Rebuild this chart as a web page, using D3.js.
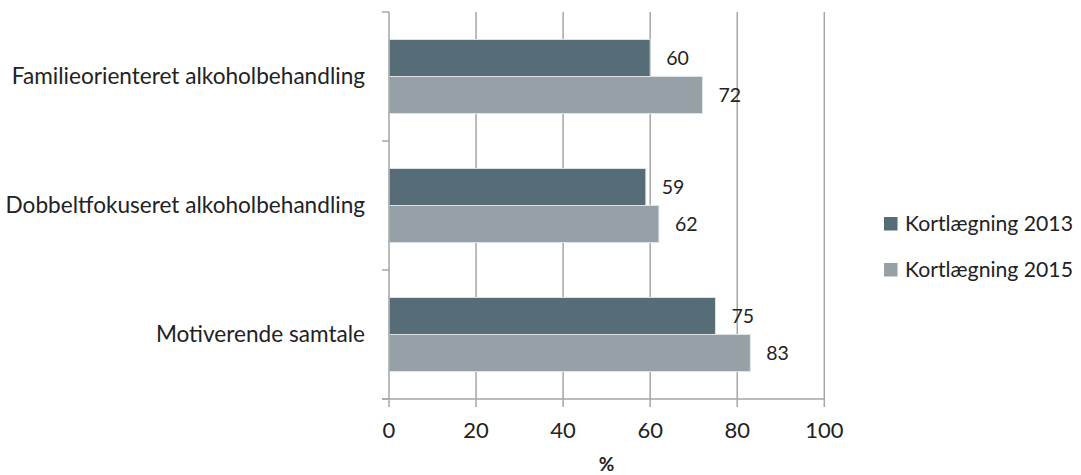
<!DOCTYPE html>
<html><head><meta charset="utf-8">
<script src="https://cdn.jsdelivr.net/npm/d3@7"></script>
<style>body{margin:0;background:#fff}svg{display:block}</style>
</head><body>
<svg id="c" width="1081" height="475"></svg>
<script>
const categories = ["Familieorienteret alkoholbehandling", "Dobbeltfokuseret alkoholbehandling", "Motiverende samtale"];
const seriesNames = ["Kortlægning 2013", "Kortlægning 2015"];
const values2013 = [60, 59, 75];
const values2015 = [72, 62, 83];
const xTicks = [0, 20, 40, 60, 80, 100];
const axisTitle = "%";
const colors = ["#566c76", "#95a1a6"];

const svg = d3.select("#c");
const font = "Lato, 'Open Sans', sans-serif";
const L = 389, R = 824.3, T = 12, B = 399;
const x = d3.scaleLinear().domain([0, 100]).range([L, R]);
const y = d3.scaleBand().domain(categories).range([T, B]).padding(0);
const inner = d3.scaleBand().domain(seriesNames).range([0, y.bandwidth()]).paddingInner(0).paddingOuter(0.743);
const grid = "#a6a6a6";

// gridlines
svg.append("g").selectAll("line").data(xTicks.slice(1)).join("line")
  .attr("x1", d => x(d)).attr("x2", d => x(d)).attr("y1", T).attr("y2", B)
  .attr("stroke", grid).attr("stroke-width", 1.5);

// bars
const rows = categories.map((c, i) => ({c, vals: [values2013[i], values2015[i]]}));
const g = svg.append("g");
rows.forEach(r => {
  r.vals.forEach((v, j) => {
    const yy = y(r.c) + inner(seriesNames[j]);
    g.append("rect").attr("x", x(0)).attr("y", yy).attr("width", x(v) - x(0)).attr("height", inner.bandwidth())
      .attr("fill", colors[j]).attr("stroke", "#dde2e4").attr("stroke-width", 1);
    g.append("text").attr("x", x(v) + 16).attr("y", yy + inner.bandwidth() / 2).attr("dy", "0.35em")
      .attr("font-family", font).attr("font-size", 19.5).attr("fill", "#222").text(v);
  });
});

// left axis
const ya = svg.append("g");
ya.append("line").attr("x1", L).attr("x2", L).attr("y1", T).attr("y2", B).attr("stroke", grid).attr("stroke-width", 1.5);
const yTickPos = [T, ...categories.slice(1).map(c => y(c)), B];
ya.selectAll(".t").data(yTickPos).join("line").attr("class", "t")
  .attr("x1", L - 7).attr("x2", L).attr("y1", d => d).attr("y2", d => d).attr("stroke", grid).attr("stroke-width", 1.5);
ya.selectAll("text").data(categories).join("text")
  .attr("x", L - 24).attr("y", d => y(d) + y.bandwidth() / 2).attr("dy", "0.35em")
  .attr("text-anchor", "end").attr("font-family", font).attr("font-size", 22.6).attr("fill", "#222").text(d => d);

// bottom axis
const xa = svg.append("g");
xa.append("line").attr("x1", L - 7).attr("x2", R).attr("y1", B).attr("y2", B).attr("stroke", grid).attr("stroke-width", 1.5);
xa.selectAll(".t").data(xTicks).join("line").attr("class", "t")
  .attr("x1", d => x(d)).attr("x2", d => x(d)).attr("y1", B).attr("y2", B + 8).attr("stroke", grid).attr("stroke-width", 1.5);
xa.selectAll("text").data(xTicks).join("text")
  .attr("x", d => x(d)).attr("y", 430).attr("dy", "0.35em").attr("text-anchor", "middle")
  .attr("font-family", font).attr("font-size", 22).attr("fill", "#222").text(d => d);
svg.append("text").attr("x", (L + R) / 2).attr("y", 471).attr("text-anchor", "middle")
  .attr("font-family", font).attr("font-size", 19).attr("font-weight", "bold").attr("fill", "#222").text(axisTitle);

// legend
const lg = svg.append("g");
seriesNames.forEach((s, i) => {
  const cy = 224 + i * 46;
  lg.append("rect").attr("x", 884).attr("y", cy - 7).attr("width", 13.5).attr("height", 13.5).attr("fill", colors[i]);
  lg.append("text").attr("x", 905).attr("y", cy).attr("dy", "0.35em").attr("font-family", font).attr("font-size", 21.2)
    .attr("fill", "#222").text(s);
});
</script>
</body></html>
